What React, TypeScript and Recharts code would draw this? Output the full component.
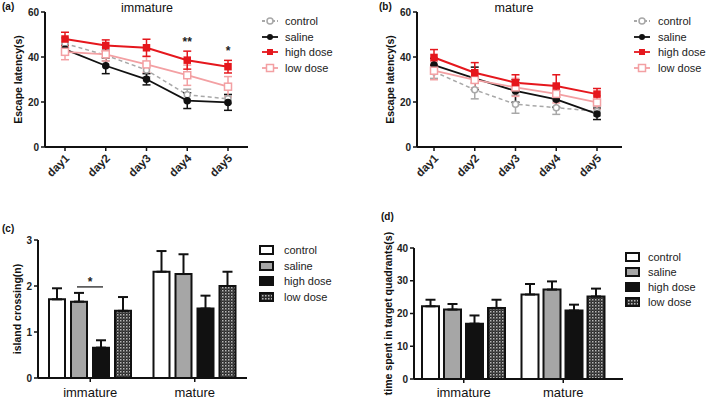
import React from 'react';
import { LineChart, Line, BarChart, Bar, XAxis, YAxis, ErrorBar, LabelList } from 'recharts';

const FONT = '"Liberation Sans", Arial, sans-serif';

const GREY = '#a8a8a8';
const BLACK = '#111111';
const RED = '#e5171d';
const PINK = '#f3a0a3';
const BAR_GREY = '#a6a6a6';

// escape latency, (a) immature and (b) mature
const days = ['day1', 'day2', 'day3', 'day4', 'day5'];
const immControl = [46, 40.8, 34.2, 23.2, 21.4];
const immControlErr = [2.5, 2.5, 3, 2.5, 2];
const immSaline = [43.4, 36.1, 30.1, 20.6, 19.8];
const immSalineErr = [2, 3.5, 2.5, 3.5, 3.5];
const immHigh = [48, 45.1, 44.1, 38.6, 35.7];
const immHighErr = [3, 2.5, 3.8, 4, 2.8];
const immLow = [42.3, 41.2, 36.7, 31.9, 26.8];
const immLowErr = [3.5, 3, 3.5, 4.5, 4.5];
const immSig = ['', '', '', '**', '*'];

const matControl = [33.5, 25.4, 19.0, 17.5, 15.8];
const matControlErr = [3, 4, 4, 3, 2];
const matSaline = [36.4, 30.5, 24.9, 21.2, 14.7];
const matSalineErr = [3, 5, 5, 3.5, 2.5];
const matHigh = [39.8, 33, 28.6, 27.1, 23.5];
const matHighErr = [3.5, 4.5, 3.5, 5, 2.5];
const matLow = [33.9, 29.8, 26.5, 23.6, 19.8];
const matLowErr = [4, 3.5, 4, 4, 3];
const matSig = ['', '', '', '', ''];

// (c) island crossing, (d) time in target quadrant
const groups = ['immature', 'mature'];
const crossControl = [1.71, 2.31];
const crossControlErr = [0.24, 0.45];
const crossSaline = [1.66, 2.26];
const crossSalineErr = [0.19, 0.43];
const crossHigh = [0.66, 1.51];
const crossHighErr = [0.16, 0.28];
const crossLow = [1.46, 2.0];
const crossLowErr = [0.3, 0.31];
const crossSigLevel = 1.98;
const crossSigIndex = 0;

const timeControl = [22.2, 25.8];
const timeControlErr = [2, 3.2];
const timeSaline = [21.2, 27.3];
const timeSalineErr = [1.7, 2.5];
const timeHigh = [16.9, 20.9];
const timeHighErr = [2.5, 1.8];
const timeLow = [21.7, 25.2];
const timeLowErr = [2.5, 2.4];

const latencyRows = (c: number[], ce: number[], s: number[], se: number[], h: number[], he: number[], l: number[], le: number[], sig: string[]) =>
  days.map((day, i) => ({
    day,
    control: c[i], controlErr: ce[i],
    saline: s[i], salineErr: se[i],
    high: h[i], highErr: he[i],
    low: l[i], lowErr: le[i],
    sigTop: sig[i] ? h[i] + he[i] : null,
    sig: sig[i],
  }));

const barRows = (c: number[], ce: number[], s: number[], se: number[], h: number[], he: number[], l: number[], le: number[]) =>
  groups.map((group, i) => ({
    group,
    control: c[i], controlErr: [0, ce[i]],
    saline: s[i], salineErr: [0, se[i]],
    high: h[i], highErr: [0, he[i]],
    low: l[i], lowErr: [0, le[i]],
  }));

const immData = latencyRows(immControl, immControlErr, immSaline, immSalineErr, immHigh, immHighErr, immLow, immLowErr, immSig);
const matData = latencyRows(matControl, matControlErr, matSaline, matSalineErr, matHigh, matHighErr, matLow, matLowErr, matSig);
const crossData = barRows(crossControl, crossControlErr, crossSaline, crossSalineErr, crossHigh, crossHighErr, crossLow, crossLowErr);
const timeData = barRows(timeControl, timeControlErr, timeSaline, timeSalineErr, timeHigh, timeHighErr, timeLow, timeLowErr);

const tickStyle = { fontSize: 10, fontWeight: 'bold', fill: '#222', fontFamily: FONT };
const axisLine = { stroke: BLACK, strokeWidth: 2 };
const tickLine = { stroke: BLACK, strokeWidth: 1.5 };

const yLabel = (text: string, dx: number) => (props: any) => {
  const vb = props.viewBox;
  const cx = vb.x + vb.width - dx;
  const cy = vb.y + vb.height / 2;
  return (
    <text x={cx} y={cy} transform={`rotate(-90 ${cx} ${cy})`} textAnchor="middle" dominantBaseline="central"
      style={{ fontSize: 10.5, fontWeight: 'bold', fill: '#111', fontFamily: FONT }}>
      {text}
    </text>
  );
};

const DayTick = (props: any) => {
  const { x, y, payload } = props;
  const ax = x + 5;
  const ay = y + 6;
  return (
    <text x={ax} y={ay} transform={`rotate(-45 ${ax} ${ay})`} textAnchor="end"
      style={{ fontSize: 11.5, fontWeight: 'bold', fill: '#222', fontFamily: FONT }}>
      {payload.value}
    </text>
  );
};

const circleDot = (fill: string, stroke: string) => (p: any) =>
  <circle key={`c-${p.index}`} cx={p.cx} cy={p.cy} r={3} fill={fill} stroke={stroke} strokeWidth={1.5} />;
const squareDot = (fill: string, stroke: string, s: number) => (p: any) =>
  <rect key={`s-${p.index}`} x={p.cx - s / 2} y={p.cy - s / 2} width={s} height={s} fill={fill} stroke={stroke} strokeWidth={1.5} />;

const SigText = (p: any) => {
  if (!p.value || p.y == null) return null;
  return (
    <text x={p.x} y={p.y - 5} textAnchor="middle" style={{ fontSize: 12, fontWeight: 'bold', fill: '#222', fontFamily: FONT }}>
      {p.value}
    </text>
  );
};

function LatencyChart({ data, width, padL, padR, marginL, marginR }: any) {
  return (
    <LineChart width={width} height={200} data={data} margin={{ top: 12, right: marginR, bottom: 0, left: marginL }}>
      <XAxis dataKey="day" height={53} padding={{ left: padL, right: padR }} axisLine={axisLine} tickLine={tickLine}
        tickSize={4} tickMargin={2} tick={(p: any) => <DayTick {...p} />} interval={0} />
      <YAxis width={40} domain={[0, 60]} ticks={[0, 20, 40, 60]} axisLine={axisLine} tickLine={tickLine}
        tickSize={4} tick={tickStyle} label={yLabel('Escape latency(s)', 27)} />
      <Line dataKey="control" stroke={GREY} strokeWidth={1.5} strokeDasharray="4 3" dot={circleDot('#fff', GREY)} isAnimationActive={false}>
        <ErrorBar dataKey="controlErr" width={4} stroke={GREY} strokeWidth={1.5} />
      </Line>
      <Line dataKey="saline" stroke={BLACK} strokeWidth={1.8} dot={circleDot(BLACK, BLACK)} isAnimationActive={false}>
        <ErrorBar dataKey="salineErr" width={4} stroke={BLACK} strokeWidth={1.5} />
      </Line>
      <Line dataKey="low" stroke={PINK} strokeWidth={1.8} dot={squareDot('#fff', PINK, 7)} isAnimationActive={false}>
        <ErrorBar dataKey="lowErr" width={4} stroke={PINK} strokeWidth={1.5} />
      </Line>
      <Line dataKey="high" stroke={RED} strokeWidth={2} dot={squareDot(RED, RED, 6)} isAnimationActive={false}>
        <ErrorBar dataKey="highErr" width={4} stroke={RED} strokeWidth={1.5} />
      </Line>
      <Line dataKey="sigTop" stroke="none" dot={false} activeDot={false} isAnimationActive={false} legendType="none">
        <LabelList dataKey="sig" content={SigText} />
      </Line>
    </LineChart>
  );
}

const BracketLabel = (barGap: number) => (p: any) => {
  if (p.index !== crossSigIndex) return null;
  const base = p.y + p.height;
  const ly = base - (crossSigLevel * p.height) / p.value;
  const x2 = p.x + p.width / 2 + 2;
  const x1 = p.x - barGap - p.width / 2 - 2;
  return (
    <g>
      <line x1={x1} y1={ly} x2={x2} y2={ly} stroke={BLACK} strokeWidth={1.2} />
      <text x={(x1 + x2) / 2} y={ly - 1} textAnchor="middle" style={{ fontSize: 12, fontWeight: 'bold', fill: '#222', fontFamily: FONT }}>*</text>
    </g>
  );
};

function GroupBars({ data, width, height, margin, xHeight, domain, ticks, label, labelDx, barSize, barGap, padR, patternId, tickMargin, bracket }: any) {
  return (
    <BarChart width={width} height={height} data={data} margin={margin} barGap={barGap}>
      <defs>
        <pattern id={patternId} width="3" height="3" patternUnits="userSpaceOnUse">
          <rect width="3" height="3" fill="#2a2a2a" />
          <rect width="1.5" height="1.5" fill="#b8b8b8" />
          <rect x="1.5" y="1.5" width="1" height="1" fill="#777" />
        </pattern>
      </defs>
      <XAxis dataKey="group" height={xHeight} padding={{ left: 0, right: padR }} axisLine={axisLine} tickLine={tickLine}
        tickSize={4} tickMargin={tickMargin} tick={{ fontSize: 13, fill: '#111', fontFamily: FONT }} />
      <YAxis width={38} domain={domain} ticks={ticks} axisLine={axisLine} tickLine={tickLine} tickSize={4}
        tick={tickStyle} label={yLabel(label, labelDx)} />
      <Bar dataKey="control" fill="#fff" stroke={BLACK} strokeWidth={2} barSize={barSize} isAnimationActive={false}>
        <ErrorBar dataKey="controlErr" width={5} stroke={BLACK} strokeWidth={2} />
      </Bar>
      <Bar dataKey="saline" fill={BAR_GREY} stroke={BLACK} strokeWidth={2} barSize={barSize} isAnimationActive={false}>
        <ErrorBar dataKey="salineErr" width={5} stroke={BLACK} strokeWidth={2} />
      </Bar>
      <Bar dataKey="high" fill={BLACK} stroke={BLACK} strokeWidth={2} barSize={barSize} isAnimationActive={false}>
        <ErrorBar dataKey="highErr" width={5} stroke={BLACK} strokeWidth={2} />
        {bracket ? <LabelList dataKey="high" content={BracketLabel(barGap)} /> : null}
      </Bar>
      <Bar dataKey="low" fill={`url(#${patternId})`} stroke={BLACK} strokeWidth={2} barSize={barSize} isAnimationActive={false}>
        <ErrorBar dataKey="lowErr" width={5} stroke={BLACK} strokeWidth={2} />
      </Bar>
    </BarChart>
  );
}

const seriesNames = ['control', 'saline', 'high dose', 'low dose'];

function LineIcon({ i }: { i: number }) {
  const color = [GREY, BLACK, RED, PINK][i];
  return (
    <svg width={16} height={10} style={{ display: 'block' }}>
      <line x1={0} y1={5} x2={16} y2={5} stroke={color} strokeWidth={1.8} strokeDasharray={i === 0 ? '3 2' : undefined} />
      {i === 0 && <circle cx={8} cy={5} r={3} fill="#fff" stroke={color} strokeWidth={1.5} />}
      {i === 1 && <circle cx={8} cy={5} r={3} fill={color} />}
      {i === 2 && <rect x={5} y={2} width={6} height={6} fill={color} />}
      {i === 3 && <rect x={4.5} y={1.5} width={7} height={7} fill="#fff" stroke={color} strokeWidth={1.5} />}
    </svg>
  );
}

function BoxIcon({ i, patternId }: { i: number; patternId: string }) {
  const fill = ['#fff', BAR_GREY, BLACK, `url(#${patternId}-lg)`][i];
  return (
    <svg width={15} height={10} style={{ display: 'block' }}>
      <defs>
        <pattern id={`${patternId}-lg`} width="3" height="3" patternUnits="userSpaceOnUse">
          <rect width="3" height="3" fill="#2a2a2a" />
          <rect width="1.5" height="1.5" fill="#b8b8b8" />
        </pattern>
      </defs>
      <rect x={1} y={1} width={13} height={8} fill={fill} stroke={BLACK} strokeWidth={2} />
    </svg>
  );
}

function Legend({ left, top, rowH, gap, kind, patternId }: any) {
  return (
    <div style={{ position: 'absolute', left, top, fontFamily: FONT, fontSize: 11, color: '#222' }}>
      {seriesNames.map((n, i) => (
        <div key={n} style={{ display: 'flex', alignItems: 'center', height: rowH, whiteSpace: 'nowrap' }}>
          {kind === 'line' ? <LineIcon i={i} /> : <BoxIcon i={i} patternId={patternId} />}
          <span style={{ marginLeft: gap }}>{n}</span>
        </div>
      ))}
    </div>
  );
}

const txt = (left: number, top: number, s: string, size: number, bold: boolean, center = false) => (
  <div style={{
    position: 'absolute', left: center ? left - 60 : left, top, width: center ? 120 : undefined,
    textAlign: center ? 'center' : 'left', fontFamily: FONT, fontSize: size, lineHeight: `${size}px`,
    fontWeight: bold ? 'bold' : 'normal', color: '#111', whiteSpace: 'nowrap',
  }}>{s}</div>
);

export default function App() {
  return (
    <div style={{ position: 'absolute', left: 0, top: 0, width: 709, height: 408, background: '#fff', overflow: 'hidden' }}>
      <div style={{ position: 'absolute', left: 0, top: 0 }}>
        <LatencyChart data={immData} width={360} padL={20} padR={20} marginL={5} marginR={112} />
      </div>
      <div style={{ position: 'absolute', left: 355, top: 0 }}>
        <LatencyChart data={matData} width={354} padL={17} padR={25} marginL={22} marginR={87} />
      </div>
      <div style={{ position: 'absolute', left: 0, top: 200 }}>
        <GroupBars data={crossData} width={360} height={208} margin={{ top: 40, right: 113, bottom: 0, left: 0 }} xHeight={30}
          domain={[0, 3]} ticks={[0, 1, 2, 3]} label="island crossing(n)" labelDx={21} barSize={16} barGap={6}
          padR={0} patternId="dotsC" tickMargin={6} bracket />
      </div>
      <div style={{ position: 'absolute', left: 355, top: 200 }}>
        <GroupBars data={timeData} width={354} height={208} margin={{ top: 48, right: 86, bottom: 0, left: 21 }} xHeight={29}
          domain={[0, 40]} ticks={[0, 10, 20, 30, 40]} label="time spent in target quadrants(s)" labelDx={26}
          barSize={17} barGap={5} padR={10} patternId="dotsD" tickMargin={5} />
      </div>

      {txt(2, 2, '(a)', 10, true)}
      {txt(147, 1.5, 'immature', 12.5, false, true)}
      {txt(379, 2, '(b)', 10, true)}
      {txt(514, 1.5, 'mature', 12.5, false, true)}
      {txt(2, 224, '(c)', 10, true)}
      {txt(381, 212, '(d)', 10, true)}

      <Legend left={262} top={13.5} rowH={15.5} gap={7} kind="line" />
      <Legend left={634} top={13.5} rowH={15.5} gap={8} kind="line" />
      <Legend left={259} top={242} rowH={15.7} gap={10} kind="box" patternId="lgC" />
      <Legend left={625} top={249.5} rowH={15} gap={8} kind="box" patternId="lgD" />
    </div>
  );
}
